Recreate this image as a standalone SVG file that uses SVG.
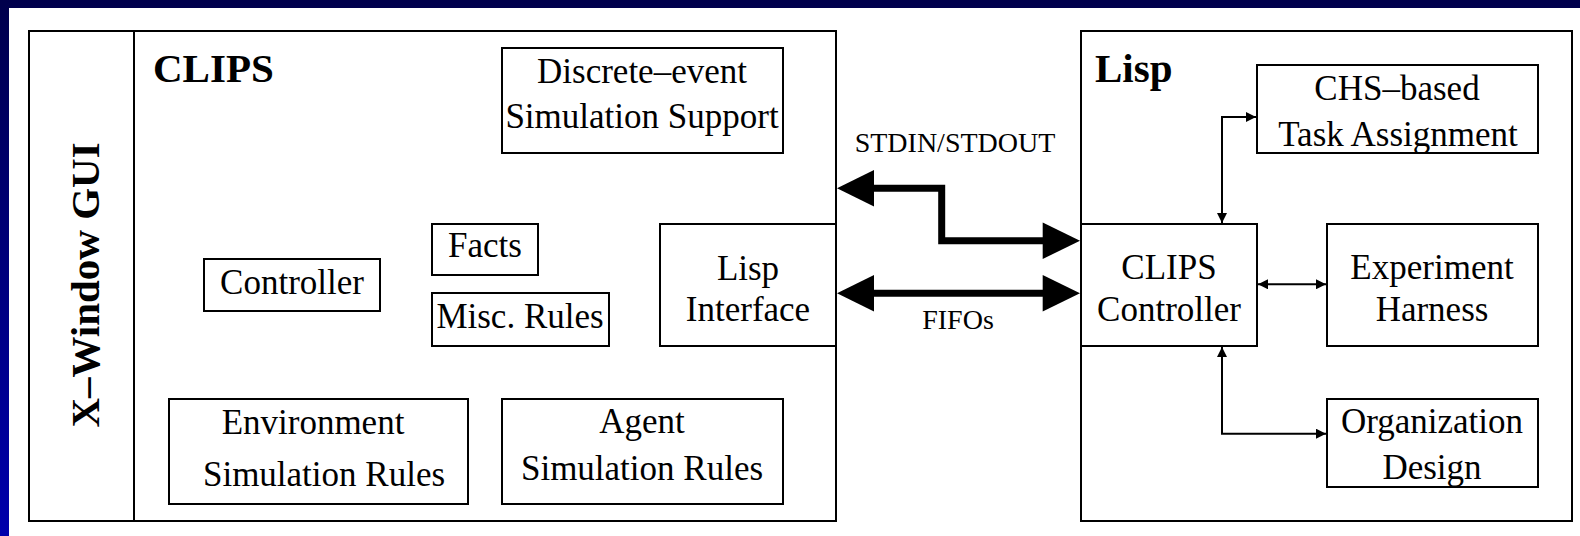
<svg xmlns="http://www.w3.org/2000/svg" width="1580" height="536" viewBox="0 0 1580 536">
<style>
.box{fill:none;stroke:#000;stroke-width:2}
.t{font-family:"Liberation Serif","Times New Roman",serif;font-size:35px;fill:#000;text-anchor:middle}
.b{font-family:"Liberation Serif","Times New Roman",serif;font-size:41px;font-weight:bold;fill:#000}
.s{font-family:"Liberation Serif","Times New Roman",serif;font-size:28px;fill:#000;text-anchor:middle}
.thin{fill:none;stroke:#000;stroke-width:2}
.thick{fill:none;stroke:#000;stroke-width:7}
</style>
<defs>
<linearGradient id="bg" x1="0" y1="0" x2="0" y2="1">
<stop offset="0" stop-color="#00004c"/>
<stop offset="1" stop-color="#0000ac"/>
</linearGradient>
<marker id="ah" viewBox="0 0 10 10" refX="10" refY="5" markerWidth="10" markerHeight="10" markerUnits="userSpaceOnUse" orient="auto-start-reverse">
<path d="M0,0 L10,5 L0,10 z" fill="#000"/>
</marker>
</defs>
<rect x="0" y="0" width="1580" height="536" fill="url(#bg)"/>
<rect x="9" y="8" width="1571" height="528" fill="#fff"/>

<g id="xwindow">
<rect class="box" x="29" y="31" width="105" height="490"/>
<text class="b" text-anchor="middle" font-size="42" transform="translate(99,285) rotate(-90)">X–Window GUI</text>
</g>
<g id="clips">
<rect class="box" x="134" y="31" width="702" height="490"/>
<text class="b" x="153" y="82">CLIPS</text>
</g>
<g id="discrete">
<rect class="box" x="502" y="48" width="281" height="105"/>
<text class="t" x="642" y="83">Discrete–event</text>
<text class="t" x="642" y="128">Simulation Support</text>
</g>
<g id="facts">
<rect class="box" x="432" y="224" width="106" height="51"/>
<text class="t" x="485" y="257">Facts</text>
</g>
<g id="controller">
<rect class="box" x="204" y="259" width="176" height="52"/>
<text class="t" x="292" y="294">Controller</text>
</g>
<g id="misc">
<rect class="box" x="432" y="293" width="177" height="53"/>
<text class="t" x="520" y="328">Misc. Rules</text>
</g>
<g id="lispif">
<rect class="box" x="660" y="224" width="176" height="122"/>
<text class="t" x="748" y="280">Lisp</text>
<text class="t" x="748" y="321">Interface</text>
</g>
<g id="env">
<rect class="box" x="169" y="399" width="299" height="105"/>
<text class="t" x="313" y="434">Environment</text>
<text class="t" x="324" y="486">Simulation Rules</text>
</g>
<g id="agent">
<rect class="box" x="502" y="399" width="281" height="105"/>
<text class="t" x="642" y="433">Agent</text>
<text class="t" x="642" y="480">Simulation Rules</text>
</g>
<g id="lisp">
<rect class="box" x="1081" y="31" width="491" height="490"/>
<text class="b" x="1095" y="82">Lisp</text>
</g>
<g id="chs">
<rect class="box" x="1257" y="65" width="281" height="88"/>
<text class="t" x="1397" y="100">CHS–based</text>
<text class="t" x="1398" y="146">Task Assignment</text>
</g>
<g id="clipsctl">
<rect class="box" x="1081" y="224" width="176" height="122"/>
<text class="t" x="1169" y="279">CLIPS</text>
<text class="t" x="1169" y="321">Controller</text>
</g>
<g id="harness">
<rect class="box" x="1327" y="224" width="211" height="122"/>
<text class="t" x="1432" y="279">Experiment</text>
<text class="t" x="1432" y="321">Harness</text>
</g>
<g id="org">
<rect class="box" x="1327" y="399" width="211" height="88"/>
<text class="t" x="1432" y="433">Organization</text>
<text class="t" x="1432" y="479">Design</text>
</g>

<g id="connectors">
<path class="thick" d="M870,188.3 H941.7 V240.7 H1046"/>
<path d="M837,188.3 L874,170 L874,206.6 z" fill="#000"/>
<path d="M1080,240.7 L1042.7,222.4 L1042.7,259 z" fill="#000"/>
<path class="thick" d="M870,293.3 H1046"/>
<path d="M837,293.3 L874,275 L874,311.6 z" fill="#000"/>
<path d="M1080,293.3 L1042.7,275 L1042.7,311.6 z" fill="#000"/>
<text class="s" x="955" y="152">STDIN/STDOUT</text>
<text class="s" x="958" y="329">FIFOs</text>

<path class="thin" d="M1222,223 V117 H1256" marker-start="url(#ah)" marker-end="url(#ah)"/>
<path class="thin" d="M1258,284.3 H1326" marker-start="url(#ah)" marker-end="url(#ah)"/>
<path class="thin" d="M1222,347 V433.7 H1326" marker-start="url(#ah)" marker-end="url(#ah)"/>
</g>
</svg>
